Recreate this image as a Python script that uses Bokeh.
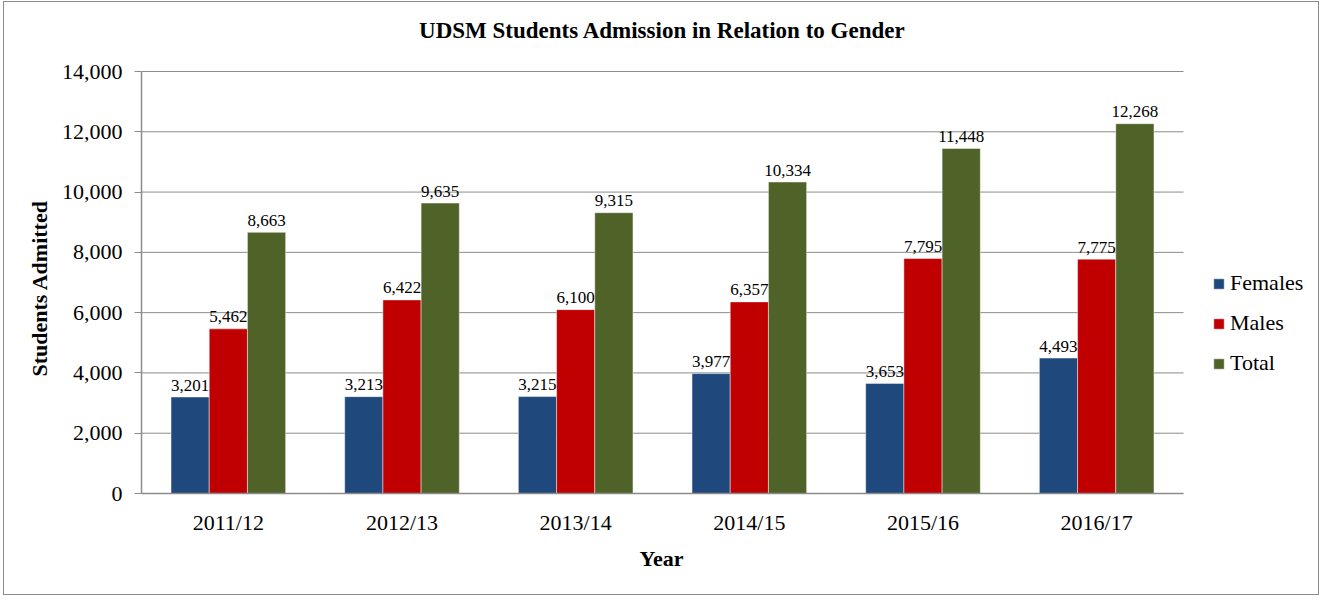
from bokeh.plotting import figure
from bokeh.models import (ColumnDataSource, Range1d, NumeralTickFormatter, FixedTicker,
                          Legend, LegendItem, Title, Label)
from bokeh.transform import dodge
from bokeh.core.properties import value
from bokeh.embed import file_html
from bokeh.resources import INLINE

years = ["2011/12", "2012/13", "2013/14", "2014/15", "2015/16", "2016/17"]
females = [3201, 3213, 3215, 3977, 3653, 4493]
males = [5462, 6422, 6100, 6357, 7795, 7775]
total = [8663, 9635, 9315, 10334, 11448, 12268]
y_ticks = [0, 2000, 4000, 6000, 8000, 10000, 12000, 14000]

FONT = "Liberation Serif"
GRID = "#8c8c8c"

n = len(years)
centers = [i + 0.5 for i in range(n)]
src = ColumnDataSource(dict(
    xc=centers,
    females=females, males=males, total=total,
    f_lbl=[f"{v:,}" for v in females],
    m_lbl=[f"{v:,}" for v in males],
    t_lbl=[f"{v:,}" for v in total],
))

W, H = 1316, 594
LEFT, BOTTOM = 137, 103
FRAME_W = W - LEFT            # frame spans to the right edge of the canvas
FRAME_H = H - BOTTOM          # frame spans to the top edge of the canvas
PLOT_W, PLOT_H = 1042, 422    # pixel size of the actual category / value area
Y_MAX = y_ticks[-1]

p = figure(
    x_range=Range1d(0, n * FRAME_W / PLOT_W),
    y_range=Range1d(0, Y_MAX * FRAME_H / PLOT_H),
    width=W, height=H,
    min_border_left=LEFT, min_border_right=0,
    min_border_top=0, min_border_bottom=BOTTOM,
    output_backend="svg", toolbar_location=None, title=None,
)
p.styles = {"border": "1px solid #8a8a8a", "margin-left": "3px", "margin-top": "1px"}

# horizontal gridlines limited to the category area
p.segment(x0=0, x1=n, y0=y_ticks, y1=y_ticks, line_color=GRID, line_width=1)

series = [("females", "f_lbl", -0.22, "#1F497D", "Females"),
          ("males", "m_lbl", 0.0, "#C00000", "Males"),
          ("total", "t_lbl", 0.22, "#4F6228", "Total")]

items = []
for col, lbl, off, color, name in series:
    r = p.vbar(x=dodge("xc", off), top=col, width=0.22, source=src,
               fill_color=color, line_color="white", line_alpha=0.45, line_width=1)
    items.append(LegendItem(label=name, renderers=[r]))
for col, lbl, off, color, name in series:
    p.text(x=dodge("xc", off), y=col, text=lbl, source=src,
           text_font=value(FONT), text_font_size="17px", text_color="black",
           text_align="center", text_baseline="alphabetic", y_offset=-12)

# chart title, placed in screen units relative to the frame's bottom-left
title = Label(x=PLOT_W / 2, y=FRAME_H - 28, x_units="screen", y_units="screen",
              text="UDSM Students Admission in Relation to Gender",
              text_font=FONT, text_font_size="23px", text_font_style="bold",
              text_color="black", text_align="center", text_baseline="middle")
p.add_layout(title)

p.xgrid.visible = False
p.ygrid.visible = False
p.outline_line_color = None

p.yaxis.ticker = FixedTicker(ticks=y_ticks)
p.yaxis.bounds = (0, Y_MAX)
p.yaxis.formatter = NumeralTickFormatter(format="0,0")
p.yaxis.minor_tick_line_color = None
p.yaxis.major_tick_out = 7
p.yaxis.major_tick_in = 0
p.yaxis.major_tick_line_color = GRID
p.yaxis.axis_line_color = GRID
p.yaxis.axis_line_width = 1.5
p.yaxis.major_label_standoff = 12

p.xaxis.ticker = FixedTicker(ticks=centers)
p.xaxis.major_label_overrides = {c: y for c, y in zip(centers, years)}
p.xaxis.bounds = (0, n)
p.xaxis.major_tick_line_color = None
p.xaxis.minor_tick_line_color = None
p.xaxis.axis_line_color = GRID
p.xaxis.axis_line_width = 1.5
p.xaxis.major_label_standoff = 10

for ax in (p.xaxis, p.yaxis):
    ax.major_label_text_font = FONT
    ax.major_label_text_font_size = "22px"
    ax.major_label_text_color = "black"

ylab = Title(text="Students Admitted", align="center", offset=0, standoff=14,
             text_font=FONT, text_font_size="22px", text_font_style="bold",
             text_color="black")
ylab.align = "left"
ylab.offset = 117
p.add_layout(ylab, "left")

xlab = Title(text="Year", align="left", offset=498, standoff=12,
             text_font=FONT, text_font_size="22px", text_font_style="bold",
             text_color="black")
p.add_layout(xlab, "below")

lg = Legend(items=items, location=(1071, 117))
lg.label_text_font = FONT
lg.label_text_font_size = "22px"
lg.label_text_color = "black"
lg.glyph_width = 13
lg.glyph_height = 13
lg.label_standoff = 5
lg.spacing = 14
lg.padding = 0
lg.margin = 0
lg.border_line_color = None
lg.background_fill_alpha = 0
p.add_layout(lg, "center")

open("out.html", "w").write(file_html(p, INLINE))
